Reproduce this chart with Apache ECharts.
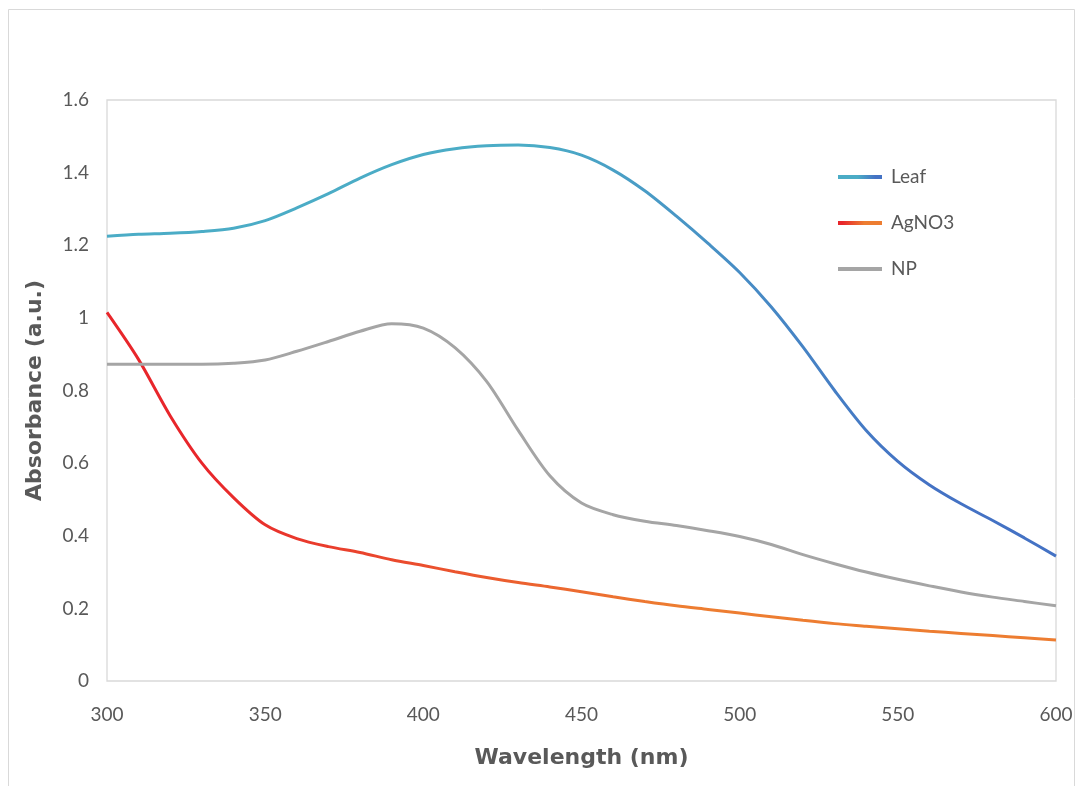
<!DOCTYPE html>
<html>
<head>
<meta charset="utf-8">
<script src="https://cdn.jsdelivr.net/npm/echarts@6/dist/echarts.min.js"></script>
<style>html,body{margin:0;padding:0;background:#fff;}#c{width:1080px;height:786px;}</style>
</head>
<body>
<div id="c"></div>
<script>
const wavelengths = [300,310,320,330,340,350,360,370,380,390,400,410,420,430,440,450,460,470,480,490,500,510,520,530,540,550,560,570,580,590,600];
const leaf = [1.225,1.23,1.233,1.238,1.247,1.268,1.303,1.342,1.385,1.422,1.45,1.466,1.474,1.476,1.469,1.448,1.407,1.35,1.28,1.205,1.125,1.03,0.92,0.8,0.69,0.605,0.54,0.488,0.442,0.394,0.344];
const agno3 = [1.015,0.885,0.73,0.60,0.505,0.43,0.392,0.37,0.354,0.334,0.318,0.301,0.285,0.271,0.259,0.246,0.232,0.219,0.207,0.197,0.187,0.177,0.167,0.158,0.151,0.144,0.137,0.131,0.125,0.119,0.113];
const np = [0.872,0.872,0.872,0.872,0.875,0.884,0.908,0.935,0.963,0.984,0.972,0.918,0.825,0.69,0.565,0.49,0.458,0.44,0.428,0.414,0.398,0.376,0.348,0.323,0.30,0.28,0.262,0.245,0.231,0.219,0.207];
const seriesNames = ['Leaf','AgNO3','NP'];

const pairs = arr => wavelengths.map((w,i)=>[w,arr[i]]);
const grad = (c1,c2,s1,s2) => new echarts.graphic.LinearGradient(0,0,1,0,[{offset:0,color:c1},{offset:s1,color:c1},{offset:s2,color:c2},{offset:1,color:c2}]);
const leafColor = grad('#4bacc6','#4472c4',0.45,0.85);
const agColor = grad('#e8262b','#ed7d31',0.1,0.6);
const npColor = '#a5a5a5';
const font = 'Lato, "Open Sans", sans-serif';
const titleFont = '"DejaVu Sans", "Liberation Sans", sans-serif';

const chart = echarts.init(document.getElementById('c'));
chart.setOption({
  animation:false,
  backgroundColor:'#fff',
  graphic:[{type:'rect',shape:{x:8.5,y:9.5,width:1066,height:790},style:{fill:'none',stroke:'#d9d9d9',lineWidth:1},silent:true}],
  grid:{left:107,right:24,top:100,bottom:105,show:true,borderColor:'#d9d9d9',borderWidth:1.3,backgroundColor:'transparent'},
  legend:{
    orient:'vertical',left:833,top:160,itemGap:22,itemWidth:44,itemHeight:4,icon:'rect',
    data:seriesNames,
    textStyle:{fontFamily:font,fontSize:19,color:'#595959',padding:[0,0,0,4],lineHeight:24}
  },
  xAxis:{
    type:'value',min:300,max:600,interval:50,
    name:'Wavelength (nm)',nameLocation:'middle',nameGap:66,
    nameTextStyle:{fontFamily:titleFont,fontWeight:'bold',fontSize:22,color:'#595959'},
    axisLine:{show:false},axisTick:{show:false},splitLine:{show:false},
    axisLabel:{fontFamily:font,fontSize:19,color:'#595959',margin:24}
  },
  yAxis:{
    type:'value',min:0,max:1.6,interval:0.2,
    name:'Absorbance (a.u.)',nameLocation:'middle',nameGap:61,nameRotate:90,
    nameTextStyle:{fontFamily:titleFont,fontWeight:'bold',fontSize:22,color:'#595959'},
    axisLine:{show:false},axisTick:{show:false},splitLine:{show:false},
    axisLabel:{fontFamily:font,fontSize:19,color:'#595959',margin:18,
      formatter:v=>String(Math.round(v*10)/10)}
  },
  series:[
    {name:'Leaf',type:'line',smooth:0.3,showSymbol:false,data:pairs(leaf),color:leafColor,lineStyle:{width:3,color:leafColor}},
    {name:'AgNO3',type:'line',smooth:0.3,showSymbol:false,data:pairs(agno3),color:agColor,lineStyle:{width:3,color:agColor}},
    {name:'NP',type:'line',smooth:0.3,showSymbol:false,data:pairs(np),color:npColor,lineStyle:{width:3,color:npColor}}
  ]
});
</script>
</body>
</html>
